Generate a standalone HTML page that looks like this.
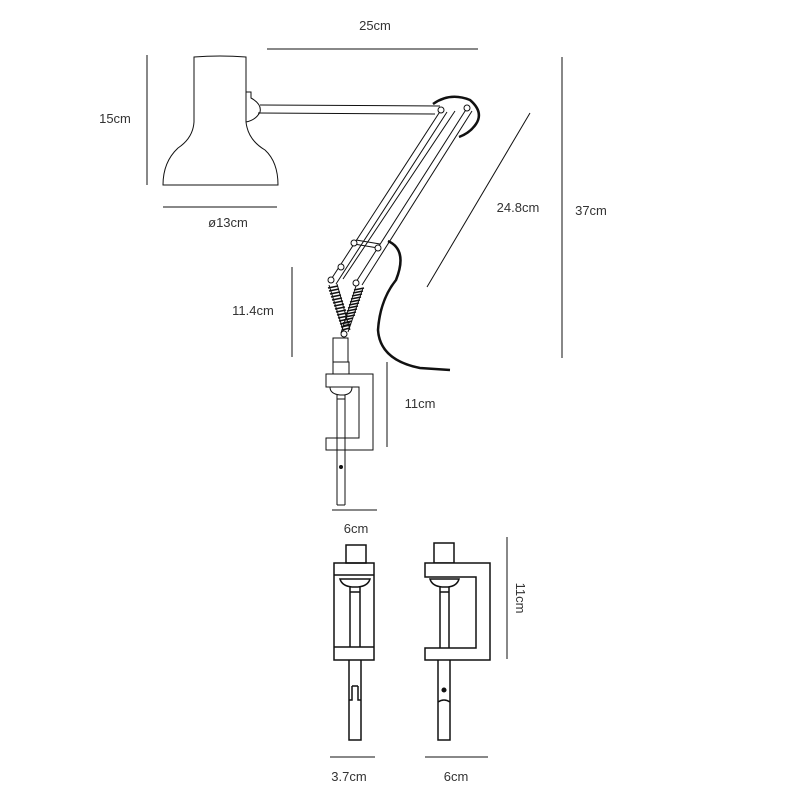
<!DOCTYPE html>
<html><head><meta charset="utf-8"><style>
body{margin:0;background:#fff}
svg{display:block}
text{font-family:"Liberation Sans",sans-serif;font-size:13px;fill:#333;text-anchor:middle}
</style></head><body>
<svg width="800" height="800" viewBox="0 0 800 800" xmlns="http://www.w3.org/2000/svg">
<g fill="none" stroke="#111" stroke-width="1">
<!-- shade -->
<path d="M194,57 Q220,55 246,57 L246,122 Q248,140 265,150 Q278,162 278,185 L163,185 Q163,162 178,148 Q193,138 194,122 Z" fill="#fff"/>
<path d="M246,92 H251 V98 Q262,104 260,112 Q256,120 246,122"/>
<!-- horizontal arm -->
<path d="M260,105 L440,106 M258,113 L435,114"/>
<!-- thick arc -->
<path d="M433,104 Q450,92 470,100 Q484,112 476,124 Q470,133 459,137" stroke-width="2.5"/>
<!-- diagonal arms -->
<path d="M441,110 L330,281 M447,112 L336,284 M467,108 L356,282 M472,111 L362,285 M455,111 L343,279"/>
<path d="M354,244 L378,248 M356,240 L380,244"/>
<!-- joints -->
<g fill="#fff"><circle cx="441" cy="110" r="3"/><circle cx="467" cy="108" r="3"/><circle cx="354" cy="243" r="3"/><circle cx="378" cy="248" r="3"/><circle cx="341" cy="267" r="3"/><circle cx="331" cy="280" r="3"/><circle cx="356" cy="283" r="3"/></g>
<!-- springs -->
<path d="M329,285 L344,333 M337,284 L350,330 M356,286 L341,333 M363,288 L348,332" />
<path d="M328,288 l10,-2 M329,291 l10,-2 M330,294 l10,-2 M331,297 l10,-2 M332,300 l10,-2 M333,303 l10,-2 M334,306 l10,-2 M335,309 l10,-2 M336,312 l10,-2 M337,315 l10,-2 M338,318 l10,-2 M339,321 l10,-2 M340,324 l10,-2 M341,327 l9,-2 M342,330 l8,-2" stroke-width="1.6"/>
<path d="M354,290 l10,-2 M353,293 l10,-2 M352,296 l10,-2 M351,299 l10,-2 M350,302 l10,-2 M349,305 l10,-2 M348,308 l10,-2 M347,311 l10,-2 M346,314 l10,-2 M345,317 l10,-2 M344,320 l9,-2 M343,323 l9,-2 M343,326 l8,-2" stroke-width="1.6"/>
<circle cx="344" cy="334" r="3" fill="#fff"/>
<!-- cord -->
<path d="M388,241 Q408,250 396,280 Q380,300 378,330 Q380,360 420,368 L450,370" stroke-width="2.5"/>
<!-- stem & clamp -->
<path d="M333,338 H348 V362 H333 Z M333,362 H349 V375 H333 Z"/>
<path d="M326,374 H373 V450 H326 V438 H359 V387 H326 Z" fill="#fff"/>
<path d="M330,387 Q330,394 340,395 H344 Q352,394 352,387 Z M337,395 V505 M345,395 V505 M337,505 H345 M337,399 H345"/>
<circle cx="341" cy="467" r="1.5" fill="#111"/>
<!-- dimension lines -->
<path d="M267,49 H478 M147,55 V185 M163,207 H277 M530,113 L427,287 M562,57 V358 M292,267 V357 M387,362 V447 M332,510 H377 M507,537 V659 M330,757 H375 M425,757 H488"/>
</g>
<g fill="none" stroke="#111" stroke-width="1.5">
<!-- bottom left clamp -->
<rect x="346" y="545" width="20" height="18"/>
<rect x="334" y="563" width="40" height="97"/>
<path d="M334,575 H374 M334,647 H374"/>
<path d="M340,579 Q342,586 352,587 H358 Q368,586 370,579 Z M350,587 V647 M360,587 V647 M350,592 H360"/>
<path d="M349,660 V740 H361 V660 M352,686 V700 H349 M358,686 V700 H361 M352,686 H358"/>
<!-- bottom right clamp -->
<rect x="434" y="543" width="20" height="20"/>
<path d="M425,563 H490 V660 H425 V648 H476 V577 H425 Z" fill="#fff"/>
<path d="M430,579 Q432,586 442,587 H448 Q457,586 459,579 Z M440,587 V648 M449,587 V648 M440,592 H449"/>
<path d="M438,660 V740 H450 V660 M438,702 Q444,698 450,702"/>
<circle cx="444" cy="690" r="1.8" fill="#111"/>
</g>
<text x="375" y="30">25cm</text>
<text x="115" y="123">15cm</text>
<text x="228" y="227">ø13cm</text>
<text x="518" y="212">24.8cm</text>
<text x="591" y="215">37cm</text>
<text x="253" y="315">11.4cm</text>
<text x="420" y="408">11cm</text>
<text x="356" y="533">6cm</text>
<text x="349" y="781">3.7cm</text>
<text x="456" y="781">6cm</text>
<text transform="translate(516,598) rotate(90)">11cm</text>
</svg>
</body></html>
